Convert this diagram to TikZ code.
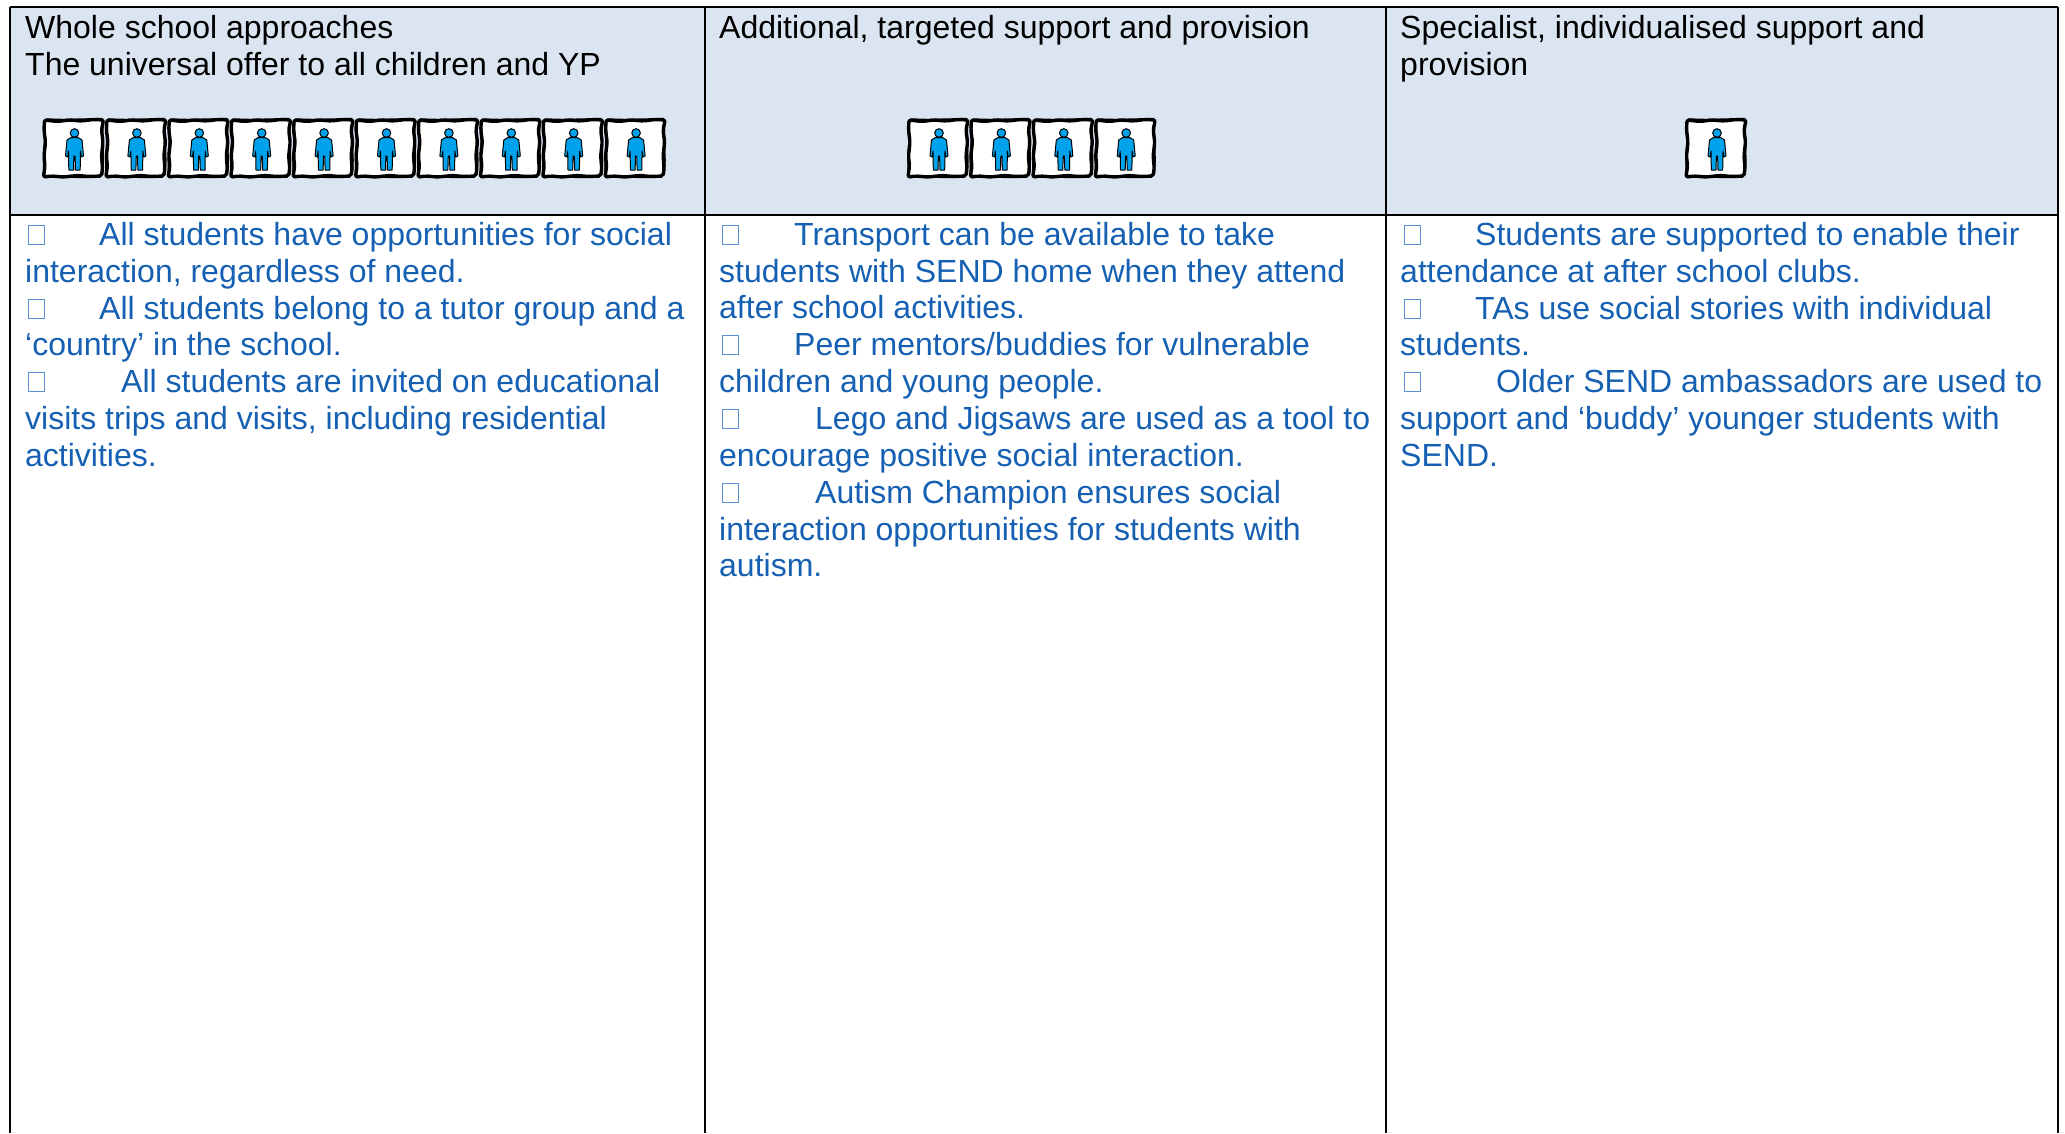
\documentclass[tikz,border=0pt]{standalone}
\usepackage{fontspec}
\setmainfont{Liberation Sans}
\definecolor{headfill}{HTML}{DBE5F1}
\definecolor{bodyblue}{HTML}{1560B2}
\definecolor{boxblue}{HTML}{5B8FD0}
\definecolor{personblue}{HTML}{00A2EC}
\tikzset{
  x=1pt,y=-1pt,
  rule/.style={line width=2.6pt,black},
  headtext/.style={anchor=base west,inner sep=0pt,align=left,text=black,font=\fontsize{32}{37}\selectfont},
  celltext/.style={anchor=base west,inner sep=0pt,align=left,text=bodyblue,font=\fontsize{32}{36.85}\selectfont},
  tickbox/.style={draw=boxblue,line width=1pt,fill=white,minimum width=16pt,minimum height=19pt,inner sep=0pt},
  person/.pic={
    \draw[line width=3.4pt,fill=white,line join=round,rounded corners=2pt]
      (-29,-28) -- (-16,-26.5) -- (-4,-28) -- (8,-27) -- (20,-28.5) -- (30,-28)
      -- (28,-18) -- (29.5,-6) -- (28,8) -- (29,20) -- (28,28)
      -- (16,28.5) -- (4,27.5) -- (-10,29) -- (-22,28) -- (-30,29)
      -- (-28.5,18) -- (-29.5,8) -- (-28,-6) -- (-29.5,-18) -- cycle;
    \draw[line width=1.4pt,line join=round]
      (-28,-29) -- (-10,-28.5) -- (12,-29) -- (29,-29.5)
      (29.5,-27) -- (29,-10) -- (30,12) -- (29,27)
      (27,29) -- (6,29.5) -- (-14,28.5) -- (-29,29.5)
      (-30,27) -- (-30,6) -- (-28.5,-12) -- (-29,-27);
    \begin{scope}[xshift=1pt]
    \fill[personblue,draw=black,line width=1pt] (0,-15) circle (4.3);
    \draw[fill=personblue,draw=black,line width=1pt,line join=round]
      (-3.5,-10.5) -- (3.5,-10.5) -- (7.5,-8) -- (9,8) -- (6.8,9) -- (6,3) -- (5.7,22)
      -- (1,22) -- (0.6,8) -- (-0.6,8) -- (-1,22) -- (-5.7,22) -- (-6,3) -- (-6.8,9) -- (-9,8) -- (-7.5,-8) -- cycle;
    \end{scope}
  }
}
\begin{document}
\begin{tikzpicture}
\useasboundingbox (0,0) rectangle (2065,1133);
% header band
\fill[headfill] (10,7) rectangle (2058,215);
% grid corners
\coordinate (tl) at (10,7);
\coordinate (tm1) at (705,7);
\coordinate (tm2) at (1386,7);
\coordinate (tr) at (2058,7);
\coordinate (ml) at (10,215);
\coordinate (mr) at (2058,215);
\coordinate (bl) at (10,1133);
\coordinate (bm1) at (705,1133);
\coordinate (bm2) at (1386,1133);
\coordinate (br) at (2058,1133);
\draw[rule] (tl) -- (tr);
\draw[rule] (ml) -- (mr);
\draw[rule] (tl) -- (bl);
\draw[rule] (tm1) -- (bm1);
\draw[rule] (tm2) -- (bm2);
\draw[rule] (tr) -- (br);
% header text
\node[headtext] (h1) at (25,75) {Whole school approaches\\The universal offer to all children and YP};
\node[headtext] (h2) at (719,38) {Additional, targeted support and provision};
\node[headtext] (h3) at (1400,75) {Specialist, individualised support and\\provision};
% icons
\foreach \i in {0,...,9} \pic at ({73.5+62.4*\i},148) {person};
\foreach \i in {0,...,3} \pic at ({938+62.4*\i},148) {person};
\pic at (1716,148) {person};
% body text
\node[celltext] (c1) at (25,466.4) {\hspace*{74pt}All students have opportunities for social\\
interaction, regardless of need.\\
\hspace*{74pt}All students belong to a tutor group and a\\
‘country’ in the school.\\
\hspace*{96pt}All students are invited on educational\\
visits trips and visits, including residential\\
activities.};
\node[celltext] (c2) at (719,576.9) {\hspace*{75pt}Transport can be available to take\\
students with SEND home when they attend\\
after school activities.\\
\hspace*{75pt}Peer mentors/buddies for vulnerable\\
children and young people.\\
\hspace*{96pt}Lego and Jigsaws are used as a tool to\\
encourage positive social interaction.\\
\hspace*{96pt}Autism Champion ensures social\\
interaction opportunities for students with\\
autism.};
\node[celltext] (c3) at (1400,466.4) {\hspace*{75pt}Students are supported to enable their\\
attendance at after school clubs.\\
\hspace*{75pt}TAs use social stories with individual\\
students.\\
\hspace*{96pt}Older SEND ambassadors are used to\\
support and ‘buddy’ younger students with\\
SEND.};
% tick boxes
\foreach \n/\x/\y in {a1/36.5/235,a2/36.5/309,a3/36.5/382,
  b1/730.5/235,b2/730.5/345,b3/730.5/419,b4/730.5/493,
  c1/1412.5/235,c2/1412.5/309,c3/1412.5/382}
  \node[tickbox] (box\n) at (\x,\y) {};
\end{tikzpicture}
\end{document}
